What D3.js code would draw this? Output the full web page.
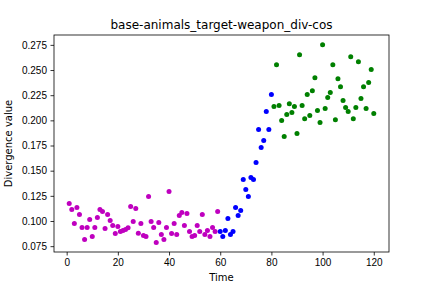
<!DOCTYPE html>
<html>
  <head>
    <meta charset="utf-8" />
    <title>base-animals_target-weapon_div-cos</title>
    <style>
      body { margin: 0; background: #fff; }
      svg { display: block; font-family: "DejaVu Sans", sans-serif; }
      .axis text { font-size: 10px; fill: #000; }
      .axis line { stroke: #000; stroke-width: 0.8; }
      .axis path { display: none; }
    </style>
  </head>
  <body>
    <div id="chart"></div>
    <script src="https://d3js.org/d3.v7.min.js"></script>
    <script>
      // divergence values per time step, three phases
      var magentaValues = [
        0.1174, 0.1114, 0.0975, 0.1134, 0.1065, 0.0936, 0.0816, 0.0936, 0.1015, 0.0846,
        0.0936, 0.1035, 0.1114, 0.1094, 0.0926, 0.1065, 0.1005, 0.0955, 0.0876, 0.0946,
        0.0896, 0.0906, 0.0916, 0.0932, 0.1144, 0.0995, 0.1124, 0.0879, 0.0975, 0.0856,
        0.0846, 0.1243, 0.0995, 0.0936, 0.0787, 0.0985, 0.0866, 0.0816, 0.0936, 0.1293,
        0.0876, 0.0975, 0.0866, 0.1055, 0.1084, 0.0955, 0.1075, 0.0896, 0.0846, 0.0856,
        0.0955, 0.0896, 0.1065, 0.0866, 0.0906, 0.0846, 0.0936, 0.0896, 0.1094
      ];
      var blueValues = [
        0.0896, 0.0846, 0.0906, 0.1025, 0.0866, 0.0896, 0.1134, 0.1055, 0.1104, 0.1412,
        0.1313, 0.1243, 0.1432, 0.1412, 0.1581, 0.1908, 0.1730, 0.1799, 0.2087, 0.1908,
        0.2256
      ];
      var greenValues = [
        0.2137, 0.2553, 0.2147, 0.1998, 0.1839, 0.2057, 0.2166, 0.2077, 0.2137, 0.1869,
        0.2653, 0.2147, 0.2017, 0.2256, 0.2047, 0.2295, 0.2424, 0.2097, 0.1978, 0.2752,
        0.2117, 0.2226, 0.2276, 0.2553, 0.2007, 0.2414, 0.2335, 0.2196, 0.2127, 0.2087,
        0.2633, 0.2017, 0.2127, 0.2583, 0.2216, 0.2335, 0.2117, 0.2375, 0.2504, 0.2067
      ];
      var magentaStart = 1, blueStart = 60, greenStart = 81;
      var xTicks = [0, 20, 40, 60, 80, 100, 120];
      var yTicks = [0.075, 0.1, 0.125, 0.15, 0.175, 0.2, 0.225, 0.25, 0.275];

      var series = [
        { color: "#bf00bf", start: magentaStart, values: magentaValues },
        { color: "#0000ff", start: blueStart, values: blueValues },
        { color: "#008000", start: greenStart, values: greenValues }
      ];

      var width = 432, height = 288;
      var margin = { top: 35, right: 43, bottom: 36, left: 54 };

      var svg = d3.select("#chart").append("svg")
        .attr("width", width)
        .attr("height", height);

      var x = d3.scaleLinear()
        .domain([-4.95, 125.95])
        .range([margin.left, width - margin.right]);

      var y = d3.scaleLinear()
        .domain([0.0692, 0.2848])
        .range([height - margin.bottom, margin.top]);

      // points
      series.forEach(function (s) {
        svg.append("g")
          .selectAll("circle")
          .data(s.values)
          .enter()
          .append("circle")
          .attr("cx", function (d, i) { return x(s.start + i); })
          .attr("cy", function (d) { return y(d); })
          .attr("r", 2.5)
          .attr("fill", s.color);
      });

      // axes
      svg.append("g")
        .attr("class", "axis")
        .attr("transform", "translate(0," + (height - margin.bottom) + ")")
        .call(d3.axisBottom(x).tickValues(xTicks).tickSize(3.5).tickPadding(3.5)
          .tickFormat(d3.format("d")));

      svg.append("g")
        .attr("class", "axis")
        .attr("transform", "translate(" + margin.left + ",0)")
        .call(d3.axisLeft(y).tickValues(yTicks).tickSize(3.5).tickPadding(3.5)
          .tickFormat(d3.format(".3f")));

      // frame
      svg.append("rect")
        .attr("x", margin.left)
        .attr("y", margin.top)
        .attr("width", width - margin.left - margin.right)
        .attr("height", height - margin.top - margin.bottom)
        .attr("fill", "none")
        .attr("stroke", "#000")
        .attr("stroke-width", 0.8);

      // labels
      svg.append("text")
        .attr("x", (margin.left + width - margin.right) / 2)
        .attr("y", 29)
        .attr("text-anchor", "middle")
        .style("font-size", "12px")
        .text("base-animals_target-weapon_div-cos");

      svg.append("text")
        .attr("x", (margin.left + width - margin.right) / 2)
        .attr("y", 281)
        .attr("text-anchor", "middle")
        .style("font-size", "10px")
        .text("Time");

      svg.append("text")
        .attr("transform", "translate(12," + (margin.top + height - margin.bottom) / 2 + ") rotate(-90)")
        .attr("text-anchor", "middle")
        .style("font-size", "10px")
        .text("Divergence value");
    </script>
  </body>
</html>
